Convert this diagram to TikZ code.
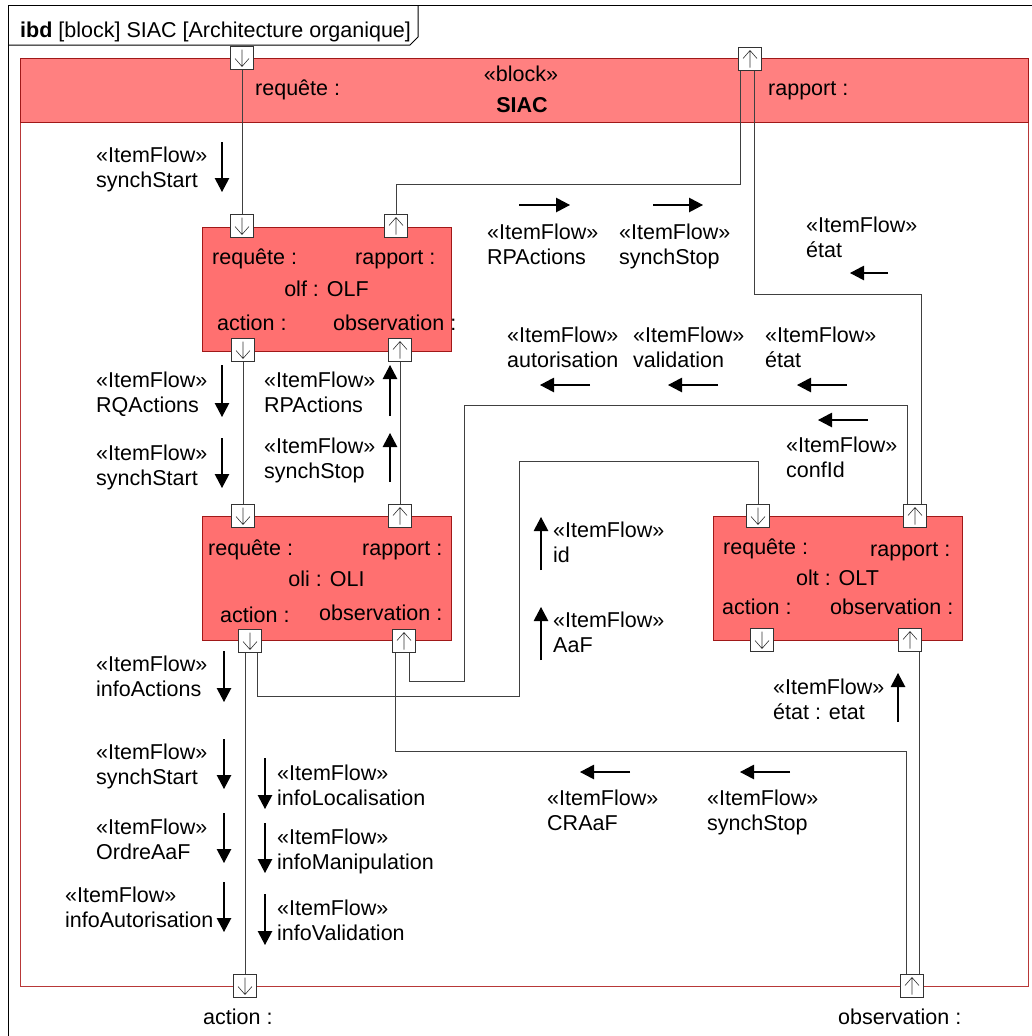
\documentclass[tikz,border=0pt]{standalone}
\usepackage{fontspec}
\setmainfont{Liberation Sans}
\usepackage{xcolor}
\usepackage{tikz}
\usetikzlibrary{positioning, arrows.meta}

\definecolor{partred}{HTML}{FF7070}
\definecolor{hdrred}{HTML}{FF8080}
\definecolor{bordred}{HTML}{A01818}
\definecolor{sysred}{HTML}{B83838}

\begin{document}
\begin{tikzpicture}[x=1pt, y=-1pt,
  font=\fontsize{21.5}{25.5}\selectfont,
  part/.style={rectangle, draw=bordred, fill=partred, line width=1pt, minimum width=249pt, minimum height=124pt, inner sep=0pt},
  sysblk/.style={rectangle, draw=sysred, line width=1pt, minimum width=1008pt, minimum height=928pt, inner sep=0pt},
  syshdr/.style={rectangle, draw=bordred, fill=hdrred, line width=1pt, minimum width=1008pt, minimum height=64pt, inner sep=0pt},
  port/.style={rectangle, draw=black!80, fill=white, line width=0.8pt, minimum size=23pt, inner sep=0pt},
  portd/.style={port, path picture={
    \draw[black!80, line width=0.6pt] ([yshift=-3pt]path picture bounding box.north) -- ([yshift=3pt]path picture bounding box.south)
      ([xshift=-7pt,yshift=11pt]path picture bounding box.south) -- ([yshift=3pt]path picture bounding box.south) -- ([xshift=7pt,yshift=11pt]path picture bounding box.south);}},
  portu/.style={port, path picture={
    \draw[black!80, line width=0.6pt] ([yshift=3pt]path picture bounding box.south) -- ([yshift=-3pt]path picture bounding box.north)
      ([xshift=-7pt,yshift=-11pt]path picture bounding box.north) -- ([yshift=-3pt]path picture bounding box.north) -- ([xshift=7pt,yshift=-11pt]path picture bounding box.north);}},
  conn/.style={draw=black!75, line width=1pt},
  flow/.style={draw=black, line width=1.1pt, -{Triangle[width=14.5pt,length=14pt]}},
  lbl/.style={anchor=base west, inner sep=0pt},
  flbl/.style={anchor=north west, align=left, inner sep=0pt}
]
  \useasboundingbox (0,0) rectangle (1032,1036);

  % 框
  \draw[line width=1pt] (1032,5) -- (8,5) -- (8,1036);
  \draw[line width=1pt] (8,45) -- (410,45) -- (418,37) -- (418,5);
  \node[lbl] (ttl) at (20,37.5) {\textbf{ibd} [block] SIAC [Architecture organique]};

  % SIAC
  \node[sysblk] (siac) at (524,522) {};
  \node[syshdr, anchor=north] (siachd) at (siac.north) {};
  \node[anchor=base] (stereo) at (521,81.5) {«block»};
  \node[anchor=base] (siacname) at (522,112.5) {\textbf{SIAC}};
  \node[lbl] (sreqlbl) at (255,95.5) {requête :};
  \node[lbl] (sraplbl) at (768,95.5) {rapport :};
  \node[lbl] (sactlbl) at (203,1024.5) {action :};
  \node[lbl] (sobslbl) at (838,1024.5) {observation :};

  % 部件
  \node[part] (olf) at (326.5,289) {olf : OLF};
  \node[part] (oli) at (326.5,578.5) {oli : OLI};
  \node[part] (olt) at (837.5,578) {olt : OLT};

  \node[lbl] (freqlbl) at (212,264.5) {requête :};
  \node[lbl] (fraplbl) at (355,264.5) {rapport :};
  \node[lbl] (factlbl) at (217,330.5) {action :};
  \node[lbl] (fobslbl) at (333,330.5) {observation :};

  \node[lbl] (ireqlbl) at (208,555.5) {requête :};
  \node[lbl] (iraplbl) at (362,555.5) {rapport :};
  \node[lbl] (iactlbl) at (220,622.5) {action :};
  \node[lbl] (iobslbl) at (319,620.5) {observation :};

  \node[lbl] (treqlbl) at (723,554.5) {requête :};
  \node[lbl] (traplbl) at (870,556.5) {rapport :};
  \node[lbl] (tactlbl) at (722,614.5) {action :};
  \node[lbl] (tobslbl) at (830,614.5) {observation :};

  % 端口
  \node[portd] (sreq) at (242,58) {};
  \node[portu] (srap) at (750,59) {};
  \node[portd] (sact) at (245,986) {};
  \node[portu] (sobs) at (912,986) {};

  \node[portd] (freq) at (242,226) {};
  \node[portu] (frap) at (396,226) {};
  \node[portd] (fact) at (243,350) {};
  \node[portu] (fobs) at (400,350) {};

  \node[portd] (ireq) at (243,516) {};
  \node[portu] (irap) at (400,516) {};
  \node[portd] (iact) at (250,641) {};
  \node[portu] (iobs) at (404,641) {};

  \node[portd] (treq) at (758,516) {};
  \node[portu] (trap) at (915,516) {};
  \node[portd] (tact) at (762,640) {};
  \node[portu] (tobs) at (910,640) {};

  % 连接
  \draw[conn] (sreq) -- (freq);
  \draw[conn] (fact) -- (ireq);
  \draw[conn] (irap) -- (fobs);
  \draw[conn] (frap.north) |- (740,184) -- ([xshift=-10pt]srap.south);
  \draw[conn] ([xshift=4pt]srap.south) |- (921,294) -- ([xshift=6pt]trap.north);
  \draw[conn] ([xshift=5pt]iobs.south) |- (464,681) |- (907,405) -- ([xshift=-8pt]trap.north);
  \draw[conn] ([xshift=7pt]iact.south) |- (519,696) |- (758,461) -- (treq.north);
  \draw[conn] ([xshift=-5pt]iact.south) -- (sact.north);
  \draw[conn] ([xshift=-9pt]iobs.south) |- (906,751) -- ([xshift=-6pt]sobs.north);
  \draw[conn] ([xshift=9pt]tobs.south) -- ([xshift=7pt]sobs.north);

  % 流
  \node[flbl] (fl1) at (96,146.5) {«ItemFlow»\\synchStart};
  \draw[flow] (222,142) -- ++(0,50);
  \node[flbl] (fl2) at (96,371.5) {«ItemFlow»\\RQActions};
  \draw[flow] (222,365) -- ++(0,52);
  \node[flbl] (fl3) at (96,444.5) {«ItemFlow»\\synchStart};
  \draw[flow] (222,438) -- ++(0,50);
  \node[flbl] (fl4) at (264,371.5) {«ItemFlow»\\RPActions};
  \draw[flow] (390,416) -- ++(0,-51);
  \node[flbl] (fl5) at (264,437.5) {«ItemFlow»\\synchStop};
  \draw[flow] (390,482) -- ++(0,-49);
  \node[flbl] (fl6) at (487,223.5) {«ItemFlow»\\RPActions};
  \draw[flow] (519,205) -- ++(51,0);
  \node[flbl] (fl7) at (619,223.5) {«ItemFlow»\\synchStop};
  \draw[flow] (653,205) -- ++(50,0);
  \node[flbl] (fl8) at (806,216.5) {«ItemFlow»\\état};
  \draw[flow] (888,273) -- ++(-38,0);
  \node[flbl] (fl9) at (507,326.5) {«ItemFlow»\\autorisation};
  \draw[flow] (590,385) -- ++(-50,0);
  \node[flbl] (fl10) at (633,326.5) {«ItemFlow»\\validation};
  \draw[flow] (718,385) -- ++(-50,0);
  \node[flbl] (fl11) at (765,326.5) {«ItemFlow»\\état};
  \draw[flow] (847,385) -- ++(-50,0);
  \node[flbl] (fl12) at (786,436.5) {«ItemFlow»\\confId};
  \draw[flow] (868,420) -- ++(-50,0);
  \node[flbl] (fl13) at (553,521.5) {«ItemFlow»\\id};
  \draw[flow] (541,570) -- ++(0,-53);
  \node[flbl] (fl14) at (553,611.5) {«ItemFlow»\\AaF};
  \draw[flow] (541,660) -- ++(0,-53);
  \node[flbl] (fl15) at (96,655.5) {«ItemFlow»\\infoActions};
  \draw[flow] (224,651) -- ++(0,51);
  \node[flbl] (fl16) at (96,743.5) {«ItemFlow»\\synchStart};
  \draw[flow] (224,739) -- ++(0,50);
  \node[flbl] (fl17) at (96,818.5) {«ItemFlow»\\OrdreAaF};
  \draw[flow] (224,813) -- ++(0,50);
  \node[flbl] (fl18) at (65,886.5) {«ItemFlow»\\infoAutorisation};
  \draw[flow] (224,882) -- ++(0,50);
  \node[flbl] (fl19) at (277,764.5) {«ItemFlow»\\infoLocalisation};
  \draw[flow] (265,758) -- ++(0,51);
  \node[flbl] (fl20) at (277,828.5) {«ItemFlow»\\infoManipulation};
  \draw[flow] (265,823) -- ++(0,50);
  \node[flbl] (fl21) at (277,899.5) {«ItemFlow»\\infoValidation};
  \draw[flow] (265,894) -- ++(0,51);
  \node[flbl] (fl22) at (547,789.5) {«ItemFlow»\\CRAaF};
  \draw[flow] (630,772) -- ++(-50,0);
  \node[flbl] (fl23) at (707,789.5) {«ItemFlow»\\synchStop};
  \draw[flow] (790,772) -- ++(-50,0);
  \node[flbl] (fl24) at (773,678.5) {«ItemFlow»\\état : etat};
  \draw[flow] (898,722) -- ++(0,-49);
\end{tikzpicture}
\end{document}
